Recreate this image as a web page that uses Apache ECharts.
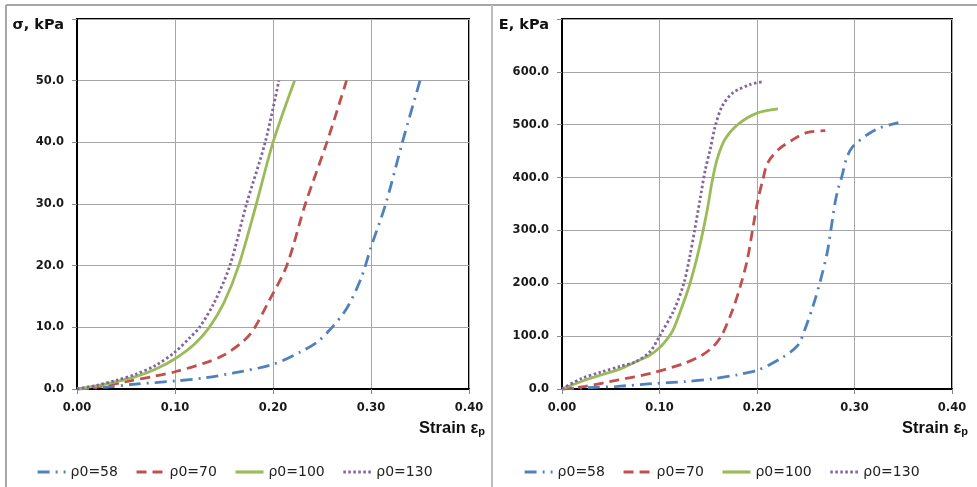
<!DOCTYPE html>
<html>
<head>
<meta charset="utf-8">
<script src="https://cdn.jsdelivr.net/npm/echarts@6/dist/echarts.min.js"></script>
<style>html,body{margin:0;padding:0;background:#fff}#c{width:977px;height:487px}</style>
</head>
<body>
<div id="c"></div>
<script>
// ---- data (strain, value) ----
const seriesNames = ['ρ0=58', 'ρ0=70', 'ρ0=100', 'ρ0=130'];

const sigma58 = [[0,0],[0.03,0.3],[0.06,0.8],[0.10,1.3],[0.13,1.8],[0.16,2.6],[0.20,4.0],[0.228,6.0],[0.245,7.6],[0.258,9.6],[0.275,13],[0.29,18],[0.30,23],[0.315,30],[0.332,40],[0.35,50]];
const sigma70 = [[0,0],[0.02,0.3],[0.05,1.2],[0.08,2.1],[0.10,2.8],[0.13,4.2],[0.15,5.5],[0.17,7.8],[0.18,9.6],[0.195,14],[0.214,20],[0.233,30],[0.255,40],[0.275,50]];
const sigma100 = [[0,0],[0.02,0.5],[0.04,1.2],[0.06,2.0],[0.08,3.2],[0.10,4.9],[0.12,7.3],[0.135,10],[0.15,14],[0.165,20],[0.183,30],[0.200,40],[0.222,50]];
const sigma130 = [[0,0],[0.02,0.6],[0.04,1.4],[0.06,2.4],[0.08,3.8],[0.10,6.0],[0.115,8.3],[0.125,10],[0.14,14],[0.156,20],[0.173,30],[0.192,40],[0.206,50]];

const modE58 = [[0,0],[0.034,3],[0.057,5],[0.092,10],[0.126,14],[0.154,19],[0.18,27],[0.201,36],[0.2255,59],[0.242,83],[0.249,112],[0.258,160],[0.265,205],[0.272,258],[0.277,316],[0.28,352],[0.283,377],[0.287,402],[0.292,437],[0.298,458],[0.313,481],[0.326,494],[0.345,504]];
const modE70 = [[0,0],[0.024,5],[0.057,17],[0.092,30],[0.126,49],[0.1435,64],[0.155,80],[0.164,102],[0.175,150],[0.183,195],[0.19,244],[0.196,307],[0.201,358],[0.206,396],[0.211,428],[0.222,453],[0.237,472],[0.251,485],[0.27,489]];
const modE100 = [[0,0],[0.024,17],[0.041,27],[0.06,38],[0.075,51],[0.09,64],[0.10,78],[0.108,95],[0.114,112],[0.122,150],[0.13,192],[0.137,238],[0.143,285],[0.149,339],[0.154,393],[0.159,434],[0.167,472],[0.18,500],[0.2,522],[0.2215,530]];
const modE130 = [[0,0],[0.02,20],[0.04,32],[0.06,43],[0.075,51],[0.09,70],[0.10,100],[0.115,150],[0.125,200],[0.131,250],[0.136,300],[0.1415,358],[0.147,415],[0.152,453],[0.157,496],[0.164,534],[0.175,560],[0.193,576],[0.205,581]];

// ---- styles ----
const colors = ['#4F81BD', '#C0504D', '#9BBB59', '#8064A2'];
const dashes = [[12, 6, 2, 6], [10, 6], 'solid', [2.5, 2.5]];
const font = 'DejaVu Sans';

function mkSeries(data, i, axisIdx) {
  return {
    type: 'line', name: seriesNames[i], data: data,
    xAxisIndex: axisIdx, yAxisIndex: axisIdx,
    symbol: 'none', smooth: 0.3,
    lineStyle: { color: colors[i], width: 2.8, type: dashes[i] },
    itemStyle: { color: colors[i] },
    z: 3
  };
}

function xAx(gi) {
  return {
    type: 'value', gridIndex: gi, min: 0, max: 0.4, interval: 0.1,
    name: 'Strain ε{p|p}', nameLocation: 'end', nameGap: 16,
    nameTextStyle: {
      fontFamily: 'Liberation Sans', fontWeight: 'bold', fontSize: 16.5, color: '#111',
      align: 'right', verticalAlign: 'top', padding: [31, 0, 0, 0],
      rich: { p: { fontFamily: 'Liberation Sans', fontWeight: 'bold', fontSize: 11, color: '#111', padding: [6, 0, 0, 0] } }
    },
    axisLine: { show: true, lineStyle: { color: '#000', width: 2 } },
    axisTick: { show: true, length: 5, lineStyle: { color: '#888' } },
    splitLine: { show: true, lineStyle: { color: '#A6A6A6', width: 1 } },
    axisLabel: { fontFamily: font, fontWeight: 'bold', fontSize: 11.5, color: '#1a1a1a', margin: 13,
      formatter: v => v.toFixed(2) }
  };
}
function yAx(gi, max, interval, name) {
  return {
    type: 'value', gridIndex: gi, min: 0, max: max, interval: interval,
    name: name, nameLocation: 'end', nameGap: -6,
    nameTextStyle: { fontFamily: font, fontWeight: 'bold', fontSize: 14.5, color: '#111',
      align: 'right', verticalAlign: 'middle', padding: [0, 13, 0, 0] },
    axisLine: { show: true, lineStyle: { color: '#000', width: 2 } },
    axisTick: { show: true, length: 5, lineStyle: { color: '#888' } },
    splitLine: { show: true, lineStyle: { color: '#A6A6A6', width: 1 } },
    axisLabel: { fontFamily: font, fontWeight: 'bold', fontSize: 11.5, color: '#1a1a1a', margin: 13,
      formatter: v => (v >= max ? '' : v.toFixed(1)) }
  };
}
function legend(left) {
  return {
    data: seriesNames, left: left, top: 460, orient: 'horizontal',
    itemWidth: 28, itemHeight: 14, itemGap: 17,
    itemStyle: { opacity: 0 },
    lineStyle: { width: 3.2 },
    textStyle: { fontFamily: font, fontSize: 14, color: '#222' },
    selectedMode: false
  };
}

const chart = echarts.init(document.getElementById('c'), null, { renderer: 'canvas' });
chart.setOption({
  animation: false,
  backgroundColor: '#fff',
  grid: [
    { left: 77, right: 508, top: 19, bottom: 98, show: true, borderColor: '#000', borderWidth: 2, backgroundColor: 'transparent' },
    { left: 562, right: 25, top: 19, bottom: 98, show: true, borderColor: '#000', borderWidth: 2, backgroundColor: 'transparent' }
  ],
  xAxis: [xAx(0), xAx(1)],
  yAxis: [yAx(0, 60, 10, 'σ, kPa'), yAx(1, 700, 100, 'E, kPa')],
  legend: [legend(31), legend(518)],
  graphic: [
    { type: 'line', shape: { x1: 6, y1: 5, x2: 977, y2: 5 }, style: { stroke: '#A6A6A6', lineWidth: 2 }, silent: true },
    { type: 'line', shape: { x1: 6, y1: 5, x2: 6, y2: 487 }, style: { stroke: '#A6A6A6', lineWidth: 2 }, silent: true },
    { type: 'line', shape: { x1: 492, y1: 5, x2: 492, y2: 487 }, style: { stroke: '#BDBDBD', lineWidth: 2 }, silent: true }
  ],
  series: [
    mkSeries(sigma58, 0, 0), mkSeries(sigma70, 1, 0), mkSeries(sigma100, 2, 0), mkSeries(sigma130, 3, 0),
    mkSeries(modE58, 0, 1), mkSeries(modE70, 1, 1), mkSeries(modE100, 2, 1), mkSeries(modE130, 3, 1)
  ]
});
</script>
</body>
</html>
